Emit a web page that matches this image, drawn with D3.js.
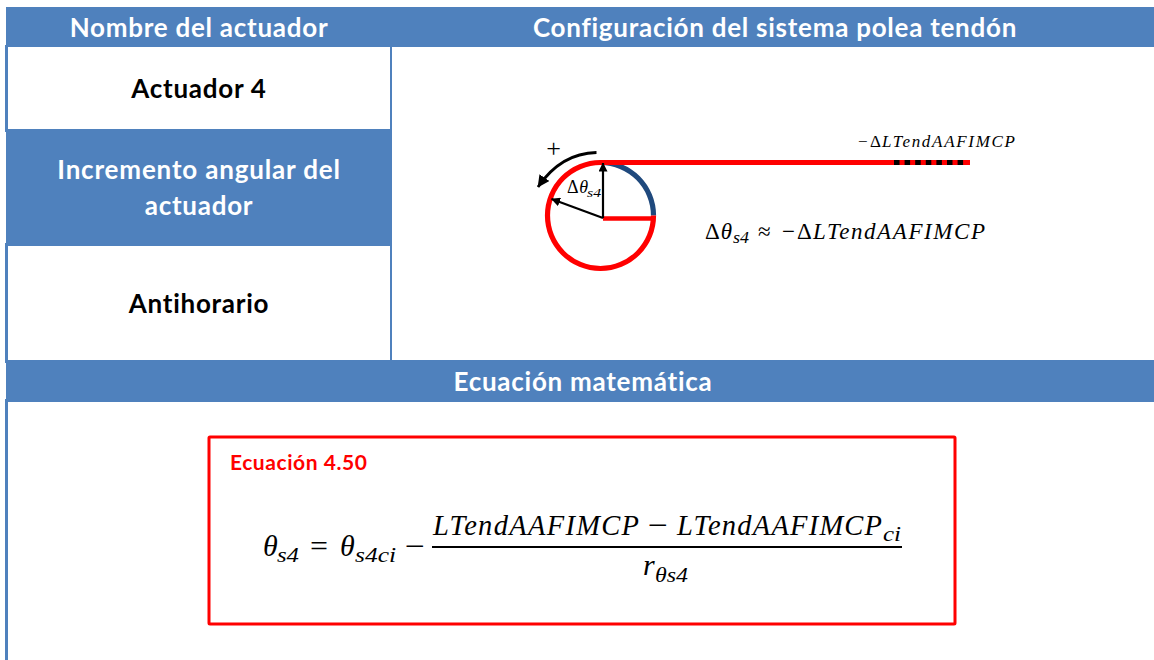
<!DOCTYPE html>
<html><head><meta charset="utf-8"><script src="https://cdn.jsdelivr.net/npm/d3@7"></script>
<style>html,body{margin:0;padding:0;background:#fff;overflow:hidden}svg{display:block}</style></head>
<body><div id="c"></div>
<script>
const headerLabels = ["Nombre del actuador", "Configuración del sistema polea tendón"];
const rowLabels = ["Actuador 4", ["Incremento angular del", "actuador"], "Antihorario"];
const sectionLabel = "Ecuación matemática";
const equationLabel = "Ecuación 4.50";
const rotationSign = "+";
const delta = "Δ", theta = "θ", minus = "−", approx = "≈", equals = "=";
const tendonName = "LTendAAFIMCP";
const pulleySub = "s4", initialSub = "s4ci", tendonSub = "ci", radiusSymbol = "r", radiusSub = "θs4";
const blueArcDeg = [0, 90];
const redArcDeg = [90, 360];

const blue = "#4f81bd", red = "#ff0000", navy = "#1f497d";
const svg = d3.select("#c").append("svg").attr("width",1154).attr("height",660);
const sans = "Lato, 'Open Sans', sans-serif", math = "'Liberation Serif', serif";
const rect=(x,y,w,h,f)=>svg.append("rect").attr("x",x).attr("y",y).attr("width",w).attr("height",h).attr("fill",f);
const text=(x,y,s,o={})=>svg.append("text").attr("x",x).attr("y",y).attr("text-anchor",o.a||"middle")
  .attr("font-family",o.ff||sans).attr("font-weight",o.w||700).attr("font-size",o.s||26).attr("fill",o.f||"#000")
  .attr("letter-spacing",o.ls===undefined?0.74:o.ls).text(s);

// table
rect(5,45,3,87,blue);
rect(5,243,3,120,blue);
rect(5,399,3,261,blue);
rect(390,47,2,315,blue);
rect(6,7,1148,40,blue);
rect(6,129,386,117,blue);
rect(6,360,1148,42,blue);
text(199,37,headerLabels[0],{f:"#fff"});
text(775,37,headerLabels[1],{f:"#fff"});
text(199,98,rowLabels[0]);
text(199,179,rowLabels[1][0],{f:"#fff",ls:0.82});
text(199,215,rowLabels[1][1],{f:"#fff"});
text(199,313,rowLabels[2]);
text(583,391,sectionLabel,{f:"#fff"});

// pulley
const cx=600.5, cy=215.5, R=53;
const ang = d3.scaleLinear().domain([0,360]).range([0,2*Math.PI]);
const g = svg.append("g").attr("transform",`translate(${cx},${cy})`);
const arc = d3.arc().innerRadius(R-2.6).outerRadius(R+2.6);
g.append("path").attr("fill",navy).attr("d",arc({startAngle:ang(blueArcDeg[0]),endAngle:ang(blueArcDeg[1])}));
g.append("path").attr("fill",red).attr("d",arc({startAngle:ang(redArcDeg[0]),endAngle:ang(redArcDeg[1])}));
const defs=svg.append("defs");
const marker=(id,size)=>defs.append("marker").attr("id",id).attr("viewBox","0 0 10 10").attr("refX",9.5).attr("refY",5)
 .attr("markerWidth",size).attr("markerHeight",size).attr("markerUnits","userSpaceOnUse").attr("orient","auto")
 .append("path").attr("d","M0,0L10,5L0,10Z").attr("fill","#000");
marker("ah",9); marker("ah2",12);
const line=(x1,y1,x2,y2,c,w)=>svg.append("line").attr("x1",x1).attr("y1",y1).attr("x2",x2).attr("y2",y2).attr("stroke",c).attr("stroke-width",w);
line(603,218.5,655,218.5,red,4.5);
line(600,162.5,970,162.5,red,5);
line(894,162.5,968,162.5,"#000",5).attr("stroke-dasharray","5.5 5.1");
line(603,218,603,163,"#000",2.2).attr("marker-end","url(#ah)");
line(603,218,551.5,199,"#000",2.2).attr("marker-end","url(#ah)");
svg.append("path").attr("d","M596.5,152.5C572,153 553,165 538,187").attr("fill","none").attr("stroke","#000").attr("stroke-width",2.8).attr("marker-end","url(#ah2)");
text(553.5,157,rotationSign,{ff:math,w:400,s:26,ls:0});

// math helper: one run of a formula, fitted to the span it occupies
function run(x,y,s,size,width,upright,adjust){
  const t=svg.append("text").attr("x",x).attr("y",y).attr("font-family",math).attr("font-size",size)
    .attr("font-style",upright?"normal":"italic").attr("fill","#000").text(s);
  if(width) t.attr("textLength",width).attr("lengthAdjust",adjust||"spacingAndGlyphs");
  return t;
}
const deltaTheta=(x,y,size)=>{ run(x,y,delta,size,0,true); run(x+size*0.68,y,theta,size); };

// tendon label
run(858,147,minus,17,0,true);
run(870,147,delta,17,0,true);
run(882,147,tendonName,17,133,false,"spacing");

// relation
deltaTheta(705,239,23);
run(733,243,pulleySub,16,16);
run(758,239,approx,23,0,true);
run(782,239,minus,23,0,true);
run(797,239,delta,23,0,true);
run(813,239,tendonName,23,172,false,"spacing");

// pulley angle label
deltaTheta(567,193,18);
run(587,197,pulleySub,12,14);

// equation box
svg.append("rect").attr("x",209).attr("y",437).attr("width",746).attr("height",187).attr("fill","#fff").attr("stroke",red).attr("stroke-width",3).attr("rx",1);
text(230,470,equationLabel,{a:"start",s:21,f:red,ls:0.55});
run(263,556,theta,30);
run(277,562,pulleySub,21,22);
run(310,556,equals,30,18,true);
run(340,556,theta,30);
run(355,562,initialSub,21,41);
run(405,556,minus,30,20,true);
run(433,535,tendonName,28.5,206,false,"spacing");
run(648,535,minus,30,20,true);
run(677,535,tendonName,28.5,205,false,"spacing");
run(883,541,tendonSub,21,18);
line(432,547,902,547,"#000",2);
run(643,575,radiusSymbol,30);
run(655,582,radiusSub,21,33);
</script></body></html>
